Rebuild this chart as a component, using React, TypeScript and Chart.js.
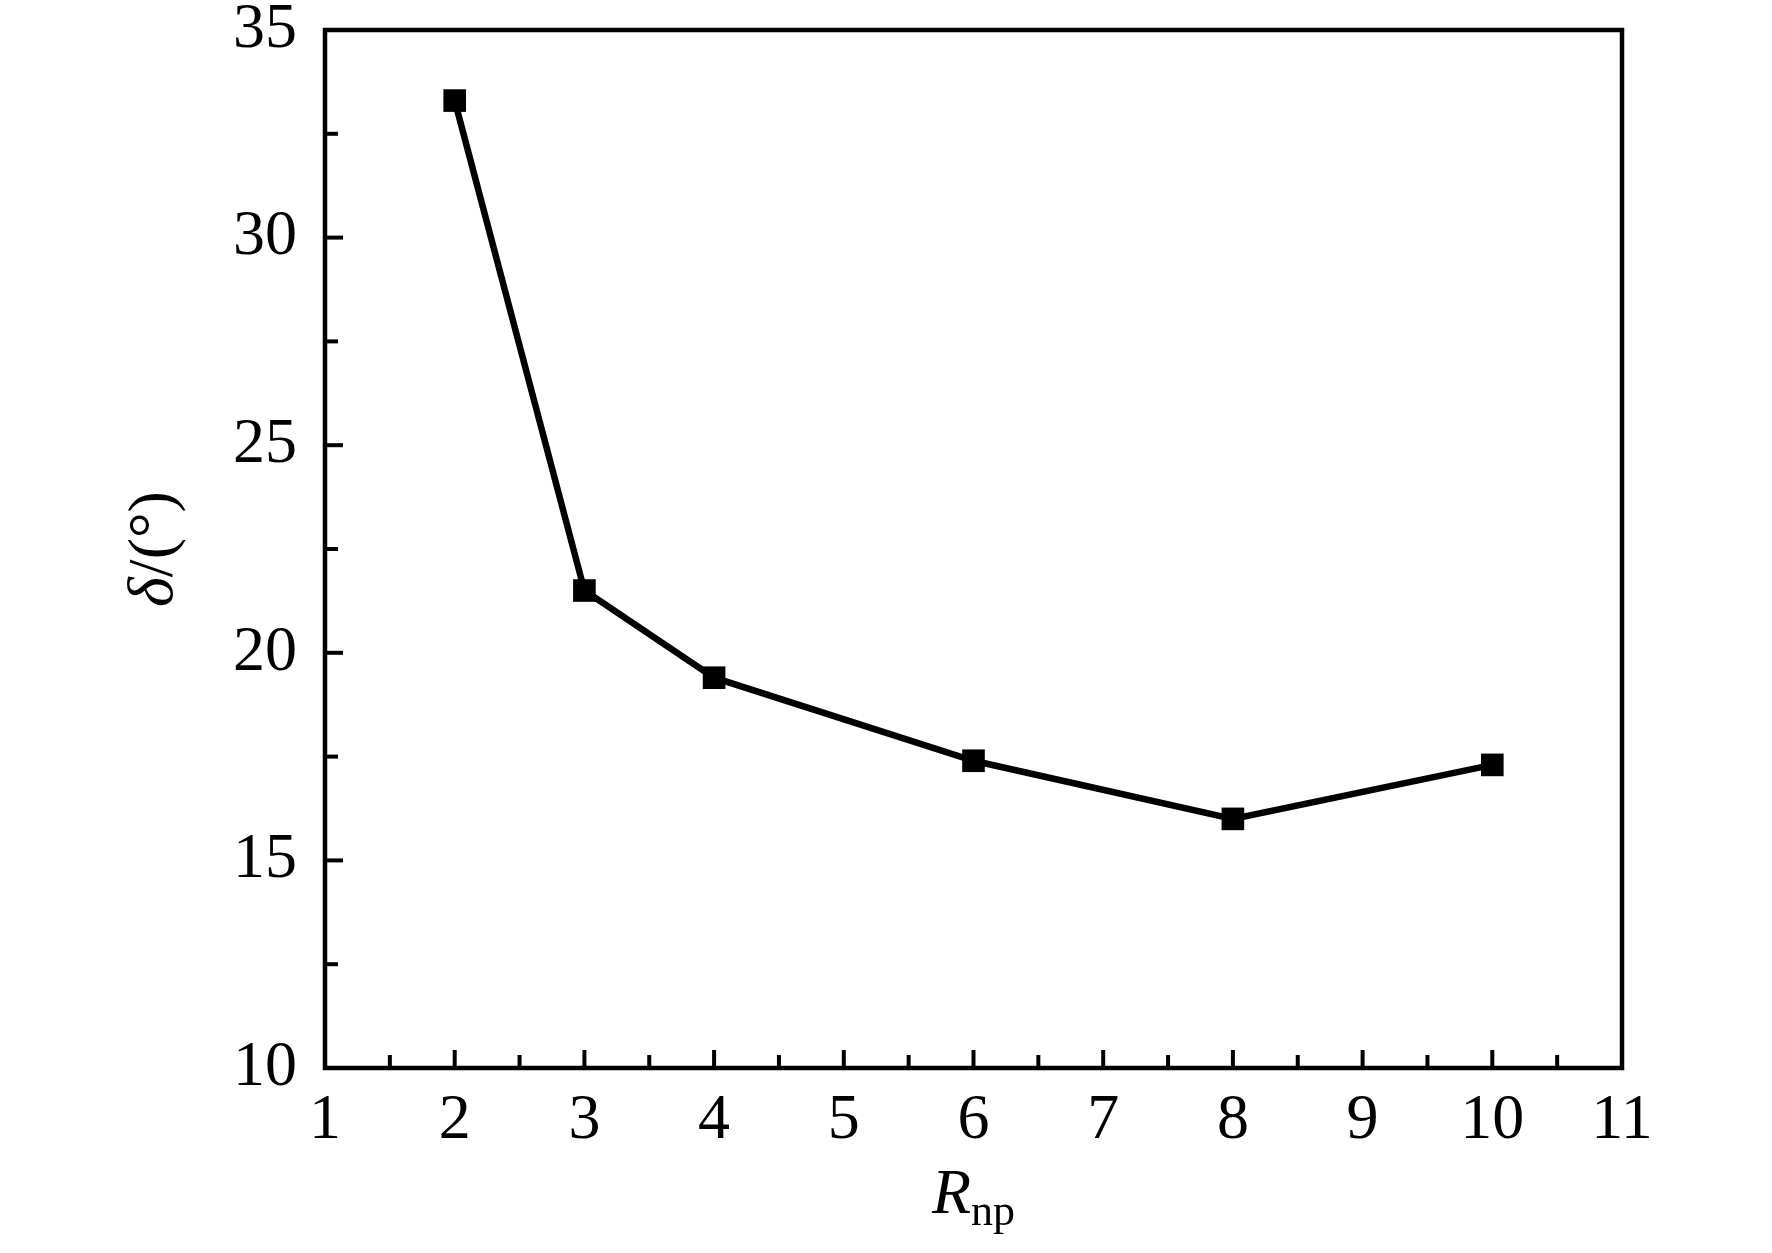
import React, { useEffect, useRef } from "react";
import { Chart, registerables } from "chart.js";

Chart.register(...registerables);

const xValues = [2, 3, 4, 6, 8, 10];
const deltaValues = [33.3, 21.5, 19.4, 17.4, 16.0, 17.3];
const xMajorTicks = [1, 2, 3, 4, 5, 6, 7, 8, 9, 10, 11];
const yMajorTicks = [10, 15, 20, 25, 30, 35];
const xTitleMain = "R";
const xTitleSub = "np";
const yTitleSymbol = "δ";
const yTitleRest = "/(°)";

const FONT = "'Liberation Serif', 'Times New Roman', serif";

const framePlugin = {
  id: "frameTicks",
  afterDatasetsDraw(chart: any) {
    const { ctx, chartArea } = chart;
    const xs = chart.scales.x;
    const ys = chart.scales.y;
    const { left, right, top, bottom } = chartArea;
    ctx.save();
    ctx.strokeStyle = "#000";
    ctx.lineWidth = 4.5;
    ctx.lineCap = "butt";
    ctx.strokeRect(left, top, right - left, bottom - top);
    ctx.lineWidth = 4;
    for (let v = 12.5; v < 35; v += 2.5) {
      const y = ys.getPixelForValue(v);
      const major = Math.abs(v % 5) < 1e-6;
      ctx.beginPath();
      ctx.moveTo(left, y);
      ctx.lineTo(left + (major ? 18 : 13), y);
      ctx.stroke();
    }
    for (let v = 1.5; v < 11; v += 0.5) {
      const x = xs.getPixelForValue(v);
      const major = Math.abs(v % 1) < 1e-6;
      ctx.beginPath();
      ctx.moveTo(x, bottom);
      ctx.lineTo(x, bottom - (major ? 18 : 13));
      ctx.stroke();
    }
    ctx.restore();
  },
  afterDraw(chart: any) {
    const { ctx, chartArea } = chart;
    const cx = (chartArea.left + chartArea.right) / 2;
    const cy = (chartArea.top + chartArea.bottom) / 2;
    ctx.save();
    ctx.fillStyle = "#000";
    ctx.textBaseline = "alphabetic";
    const mainFont = `italic 64px ${FONT}`;
    const subFont = `44px ${FONT}`;
    ctx.font = mainFont;
    const wMain = ctx.measureText(xTitleMain).width;
    ctx.font = subFont;
    const wSub = ctx.measureText(xTitleSub).width;
    const startX = cx - (wMain + wSub) / 2;
    const baseY = 1213;
    ctx.font = mainFont;
    ctx.textAlign = "left";
    ctx.fillText(xTitleMain, startX, baseY);
    ctx.font = subFont;
    ctx.fillText(xTitleSub, startX + wMain, baseY + 12);
    ctx.translate(172, cy);
    ctx.rotate(-Math.PI / 2);
    const symFont = `italic 64px ${FONT}`;
    const restFont = `64px ${FONT}`;
    ctx.font = symFont;
    const wSym = ctx.measureText(yTitleSymbol).width;
    ctx.font = restFont;
    const wRest = ctx.measureText(yTitleRest).width;
    const sx = -(wSym + wRest) / 2;
    ctx.font = symFont;
    ctx.fillText(yTitleSymbol, sx, 0);
    ctx.font = restFont;
    ctx.fillText(yTitleRest, sx + wSym, 0);
    ctx.restore();
  },
};

export default function App() {
  const canvasRef = useRef<HTMLCanvasElement | null>(null);

  useEffect(() => {
    document.body.style.margin = "0";
    const canvas = canvasRef.current;
    if (!canvas) return;
    const chart = new Chart(canvas, {
      type: "line",
      data: {
        datasets: [
          {
            data: xValues.map((x, i) => ({ x, y: deltaValues[i] })),
            borderColor: "#000",
            backgroundColor: "#000",
            borderWidth: 6.5,
            pointStyle: "rect",
            pointRadius: 16,
            pointBorderWidth: 0,
            pointBackgroundColor: "#000",
            tension: 0,
          },
        ],
      },
      options: {
        animation: false,
        responsive: true,
        maintainAspectRatio: false,
        devicePixelRatio: 1,
        layout: { padding: { left: 0, top: 30, right: 150, bottom: 0 } },
        plugins: {
          legend: { display: false },
          tooltip: { enabled: false },
          title: { display: false },
        },
        scales: {
          x: {
            type: "linear",
            min: 1,
            max: 11,
            afterFit: (s: any) => {
              s.height = 185;
              s.paddingLeft = 0;
              s.paddingRight = 0;
              s.paddingTop = 0;
              s.paddingBottom = 0;
            },
            afterBuildTicks: (s: any) => {
              s.ticks = xMajorTicks.map((v) => ({ value: v }));
            },
            grid: { display: false, drawTicks: false },
            border: { display: false },
            ticks: {
              color: "#000",
              padding: 15,
              maxRotation: 0,
              autoSkip: false,
              font: { family: FONT, size: 64 },
            },
          },
          y: {
            type: "linear",
            min: 10,
            max: 35,
            afterFit: (s: any) => {
              s.width = 325;
              s.paddingTop = 0;
              s.paddingBottom = 0;
              s.paddingLeft = 0;
              s.paddingRight = 0;
            },
            afterBuildTicks: (s: any) => {
              s.ticks = yMajorTicks.map((v) => ({ value: v }));
            },
            grid: { display: false, drawTicks: false },
            border: { display: false },
            ticks: {
              color: "#000",
              padding: 28,
              autoSkip: false,
              font: { family: FONT, size: 64 },
            },
          },
        },
      },
      plugins: [framePlugin],
    });
    return () => chart.destroy();
  }, []);

  return (
    <div style={{ position: "fixed", left: 0, top: 0, width: 1772, height: 1253, background: "#fff" }}>
      <canvas ref={canvasRef} />
    </div>
  );
}
